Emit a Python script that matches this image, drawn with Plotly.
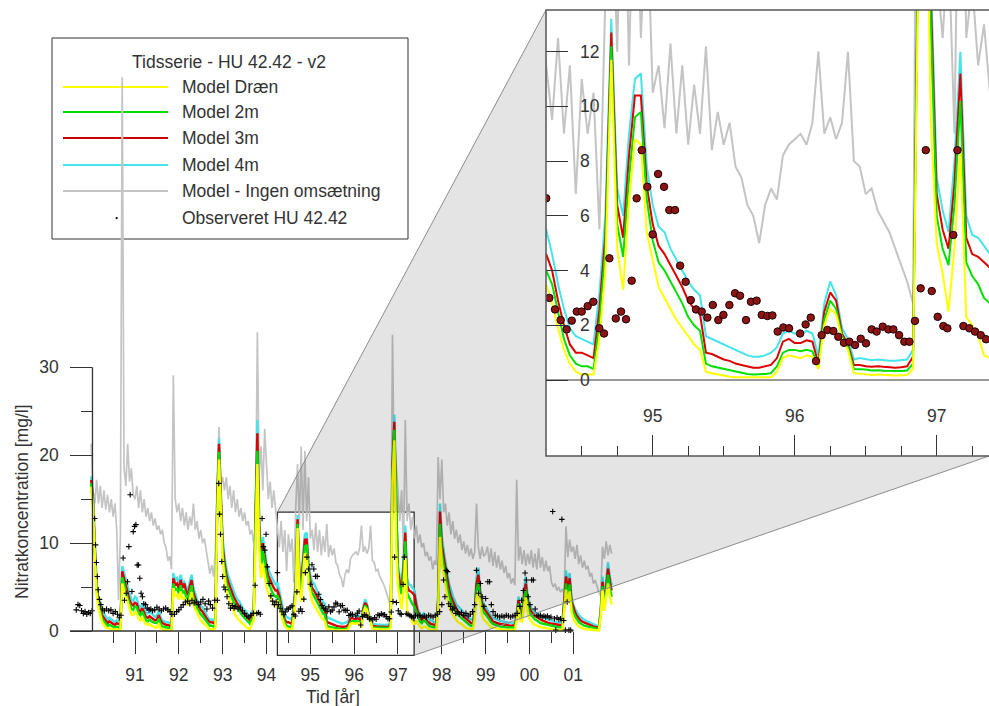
import plotly.graph_objects as go

# ---------------- data ----------------
# half-monthly time grid, 1990.0 ... 2001.875 (decimal years)
t = [1990 + k / 24 for k in range(286)]

model_4m = [  # cyan
    17.6, 15.5, 10.0, 5.5, 3.8, 3.0, 2.3, 2.0, 1.6, 1.3, 1.5, 1.3, 1.1, 1.0, 1.2, 1.1, 1.0, 7.4, 6.6, 5.6, 4.9, 4.3, 3.6, 3.4,
    3.9, 3.7, 2.9, 2.7, 3.1, 2.6, 2.1, 2.0, 2.2, 2.0, 1.8, 1.6, 1.7, 2.3, 1.6, 1.2, 1.1, 1.0, 1.0, 0.9, 0.9, 6.6, 5.8, 6.0,
    5.4, 6.4, 5.5, 5.6, 5.0, 4.6, 5.6, 6.4, 4.9, 4.2, 3.6, 3.2, 2.8, 2.7, 2.3, 2.0, 1.5, 1.3, 1.3, 1.2, 1.5, 15.5, 21.9, 15.3,
    10.5, 8.5, 7.1, 6.3, 5.7, 5.2, 4.6, 4.0, 3.6, 3.4, 3.0, 2.6, 2.4, 2.1, 1.8, 1.6, 2.2, 2.4, 14.0, 24.0, 13.0, 8.5, 10.7, 9.0,
    7.8, 7.0, 6.5, 6.0, 5.6, 5.3, 5.5, 4.6, 3.5, 2.6, 1.9, 1.6, 1.5, 1.4, 1.3, 3.2, 6.0, 13.2, 7.0, 6.0, 9.0, 11.0, 11.2, 7.8,
    6.4, 5.6, 5.4, 4.8, 4.4, 4.0, 3.6, 3.3, 3.1, 1.6, 1.5, 1.4, 1.3, 1.2, 1.1, 1.0, 0.9, 0.85, 0.85, 0.9, 1.0, 1.2, 1.7, 1.8,
    1.7, 1.65, 1.8, 1.7, 0.9, 2.8, 3.6, 3.1, 1.9, 1.5, 0.75, 0.8, 0.75, 0.72, 0.75, 0.72, 0.7, 0.7, 0.72, 0.75, 1.1, 20.0, 24.6, 15.0,
    7.4, 6.2, 5.4, 8.0, 12.0, 6.0, 5.3, 5.2, 4.9, 4.6, 3.4, 2.4, 1.9, 1.6, 2.0, 1.9, 1.5, 1.3, 1.2, 1.1, 1.0, 1.1, 4.0, 14.5,
    10.7, 9.2, 7.7, 6.5, 5.4, 4.6, 4.0, 3.5, 3.0, 2.8, 2.6, 2.4, 2.1, 1.8, 1.6, 1.4, 1.3, 1.3, 2.5, 6.0, 7.2, 4.8, 3.6, 3.1,
    2.8, 2.4, 2.0, 1.7, 1.5, 1.4, 1.3, 1.2, 1.15, 1.1, 1.05, 1.0, 0.95, 0.92, 0.9, 0.9, 0.95, 2.0, 3.9, 2.4, 2.2, 4.5, 6.2, 4.0,
    3.1, 2.6, 2.3, 2.1, 2.0, 1.8, 1.7, 1.6, 1.5, 1.4, 1.3, 1.25, 1.2, 1.1, 1.05, 1.0, 0.95, 0.95, 0.9, 3.5, 6.9, 5.0, 6.6, 3.9,
    3.0, 2.5, 2.1, 1.8, 1.6, 1.4, 1.25, 1.15, 1.05, 0.95, 0.85, 0.75, 0.65, 0.55, 0.5, 2.5, 6.2, 3.5, 6.0, 7.8, 6.2, 5.2,
]

model_3m = [  # red
    17.2, 15.0, 9.5, 5.0, 3.3, 2.5, 1.8, 1.5, 1.2, 0.9, 1.1, 0.9, 0.8, 0.7, 0.9, 0.8, 0.7, 6.8, 6.0, 5.0, 4.3, 3.5, 3.1, 2.9,
    3.2, 3.1, 2.4, 2.2, 2.6, 2.1, 1.6, 1.5, 1.7, 1.5, 1.3, 1.2, 1.3, 1.8, 1.2, 0.9, 0.8, 0.7, 0.7, 0.6, 0.6, 6.0, 5.3, 5.4,
    4.8, 5.8, 4.9, 5.4, 4.5, 4.1, 5.1, 5.8, 4.4, 3.7, 3.1, 2.8, 2.4, 2.2, 1.8, 1.5, 1.2, 1.0, 1.0, 0.9, 1.1, 14.5, 21.3, 14.5,
    9.6, 7.8, 6.4, 5.6, 5.0, 4.5, 3.9, 3.5, 3.1, 2.7, 2.4, 2.1, 1.9, 1.6, 1.4, 1.2, 1.8, 2.0, 13.0, 22.5, 12.0, 7.8, 10.0, 8.3,
    7.1, 6.3, 5.8, 5.3, 4.9, 4.6, 4.6, 4.0, 2.9, 2.0, 1.3, 1.0, 1.0, 0.9, 0.8, 2.6, 5.3, 12.7, 6.4, 5.2, 8.2, 10.4, 10.4, 7.1,
    5.7, 4.9, 4.6, 4.2, 3.8, 3.4, 2.9, 2.6, 2.4, 1.0, 0.95, 0.85, 0.75, 0.7, 0.6, 0.55, 0.5, 0.45, 0.45, 0.5, 0.55, 0.8, 1.4, 1.5,
    1.35, 1.35, 1.45, 1.4, 0.6, 2.5, 3.2, 2.9, 1.7, 1.3, 0.55, 0.55, 0.5, 0.48, 0.5, 0.48, 0.46, 0.45, 0.47, 0.5, 0.85, 19.0, 23.8, 14.0,
    6.8, 5.5, 4.8, 7.2, 11.2, 5.2, 4.6, 4.5, 4.3, 4.1, 2.9, 2.0, 1.5, 1.2, 1.6, 1.5, 1.1, 0.9, 0.8, 0.75, 0.7, 0.8, 3.5, 13.6,
    9.8, 8.4, 7.0, 5.8, 4.7, 3.9, 3.4, 2.9, 2.5, 2.2, 2.0, 1.9, 1.6, 1.4, 1.2, 1.0, 0.9, 0.9, 2.1, 5.3, 6.4, 4.2, 3.1, 2.6,
    2.3, 2.0, 1.6, 1.3, 1.1, 1.0, 0.9, 0.85, 0.8, 0.75, 0.7, 0.68, 0.65, 0.62, 0.6, 0.6, 0.65, 1.7, 3.5, 2.0, 1.8, 4.0, 5.4, 3.4,
    2.6, 2.2, 1.9, 1.7, 1.6, 1.4, 1.3, 1.2, 1.1, 1.0, 0.95, 0.9, 0.85, 0.8, 0.75, 0.7, 0.68, 0.66, 0.65, 3.0, 6.2, 4.5, 6.0, 3.4,
    2.6, 2.1, 1.7, 1.4, 1.2, 1.05, 0.95, 0.85, 0.75, 0.7, 0.6, 0.52, 0.45, 0.4, 0.35, 2.2, 5.6, 3.1, 5.4, 7.1, 5.6, 4.6,
]

model_2m = [  # green
    16.8, 14.5, 9.0, 4.6, 3.0, 2.1, 1.4, 1.1, 0.8, 0.6, 0.7, 0.6, 0.5, 0.4, 0.5, 0.4, 0.4, 6.1, 5.4, 4.4, 3.7, 3.1, 2.5, 2.4,
    2.8, 2.7, 2.0, 1.8, 2.2, 1.7, 1.2, 1.1, 1.3, 1.1, 1.0, 0.9, 0.9, 1.4, 0.8, 0.5, 0.5, 0.4, 0.4, 0.3, 0.3, 5.4, 4.7, 4.8,
    4.3, 5.2, 4.3, 4.6, 3.9, 3.6, 4.5, 5.2, 3.8, 3.2, 2.6, 2.3, 1.9, 1.7, 1.4, 1.1, 0.8, 0.6, 0.6, 0.5, 0.7, 13.5, 20.4, 13.5,
    8.8, 7.1, 5.6, 4.9, 4.3, 3.8, 3.3, 2.9, 2.6, 2.2, 2.0, 1.7, 1.5, 1.3, 1.0, 0.8, 1.4, 1.6, 12.0, 20.5, 11.0, 7.0, 9.3, 7.5,
    6.4, 5.6, 5.0, 4.5, 4.1, 3.9, 4.0, 3.5, 2.5, 1.5, 0.9, 0.6, 0.5, 0.5, 0.4, 2.1, 4.8, 12.2, 5.7, 4.5, 7.4, 9.6, 9.8, 6.6,
    5.1, 4.3, 4.0, 3.6, 3.2, 2.8, 2.3, 2.0, 1.8, 0.6, 0.5, 0.45, 0.4, 0.35, 0.3, 0.25, 0.22, 0.2, 0.2, 0.22, 0.25, 0.5, 1.0, 1.1,
    1.1, 1.05, 1.1, 1.05, 0.5, 2.2, 2.9, 2.6, 1.6, 1.2, 0.4, 0.4, 0.38, 0.35, 0.36, 0.34, 0.33, 0.32, 0.33, 0.35, 0.6, 18.0, 22.9, 13.0,
    6.0, 4.8, 4.2, 6.4, 10.2, 4.3, 3.8, 3.5, 3.0, 2.8, 2.3, 1.6, 1.1, 0.9, 1.2, 1.1, 0.8, 0.6, 0.5, 0.45, 0.4, 0.5, 3.0, 12.2,
    8.8, 7.6, 6.2, 5.0, 4.0, 3.3, 2.8, 2.4, 2.0, 1.8, 1.6, 1.4, 1.2, 1.0, 0.8, 0.7, 0.6, 0.6, 1.7, 4.6, 5.5, 3.6, 2.6, 2.1,
    1.9, 1.6, 1.2, 1.0, 0.8, 0.7, 0.6, 0.55, 0.5, 0.5, 0.45, 0.42, 0.4, 0.38, 0.36, 0.36, 0.4, 1.4, 3.1, 1.6, 1.4, 3.5, 4.7, 2.9,
    2.1, 1.8, 1.5, 1.3, 1.2, 1.0, 0.9, 0.85, 0.8, 0.7, 0.65, 0.6, 0.55, 0.5, 0.48, 0.45, 0.42, 0.4, 0.4, 2.6, 5.4, 3.9, 5.3, 2.9,
    2.1, 1.7, 1.3, 1.0, 0.85, 0.7, 0.6, 0.55, 0.5, 0.45, 0.4, 0.35, 0.3, 0.25, 0.22, 1.9, 5.1, 2.7, 4.8, 6.4, 4.9, 3.9,
]

model_draen = [  # yellow
    16.4, 14.0, 8.5, 4.2, 2.6, 1.7, 1.0, 0.7, 0.4, 0.3, 0.3, 0.2, 0.2, 0.1, 0.2, 0.1, 0.1, 5.4, 4.7, 3.8, 3.1, 2.4, 1.9, 1.8,
    2.2, 2.0, 1.4, 1.2, 1.6, 1.1, 0.8, 0.7, 0.8, 0.6, 0.5, 0.4, 0.4, 0.9, 0.3, 0.2, 0.1, 0.1, 0.1, 0.1, 0.1, 4.9, 4.0, 4.1,
    3.6, 4.5, 3.6, 3.8, 3.2, 2.9, 3.8, 4.4, 3.0, 2.5, 1.9, 1.6, 1.2, 1.0, 0.8, 0.5, 0.3, 0.2, 0.2, 0.2, 0.3, 12.5, 19.5, 12.8,
    8.0, 6.2, 4.8, 4.0, 3.4, 2.9, 2.2, 1.8, 1.5, 1.2, 1.0, 0.8, 0.6, 0.5, 0.3, 0.2, 0.9, 1.2, 11.0, 19.0, 9.5, 6.0, 7.7, 6.2,
    5.0, 4.3, 3.8, 3.3, 3.0, 2.8, 3.5, 2.8, 1.9, 1.1, 0.6, 0.3, 0.2, 0.2, 0.2, 1.5, 4.0, 11.7, 4.8, 3.3, 6.5, 8.8, 8.6, 5.4,
    4.4, 3.4, 3.0, 2.6, 2.2, 1.9, 1.6, 1.3, 1.1, 0.3, 0.25, 0.2, 0.15, 0.12, 0.1, 0.1, 0.08, 0.08, 0.08, 0.1, 0.1, 0.3, 0.8, 0.9,
    0.85, 0.8, 0.9, 0.85, 0.4, 2.0, 2.6, 2.4, 1.5, 1.1, 0.25, 0.22, 0.2, 0.18, 0.2, 0.18, 0.17, 0.16, 0.17, 0.18, 0.4, 17.0, 21.7, 9.5,
    5.0, 3.9, 2.5, 4.8, 8.4, 2.3, 2.0, 1.6, 0.9, 0.8, 1.2, 0.8, 0.5, 0.3, 0.5, 0.5, 0.3, 0.2, 0.15, 0.12, 0.1, 0.15, 2.4, 10.7,
    7.7, 6.5, 5.0, 4.0, 2.8, 2.2, 1.8, 1.5, 1.2, 1.0, 0.9, 0.7, 0.5, 0.4, 0.3, 0.25, 0.2, 0.2, 1.3, 3.8, 4.5, 2.8, 1.8, 1.3,
    1.1, 0.9, 0.6, 0.45, 0.35, 0.3, 0.25, 0.2, 0.2, 0.18, 0.15, 0.15, 0.12, 0.12, 0.1, 0.1, 0.12, 1.1, 2.7, 1.2, 1.0, 2.8, 3.9, 2.2,
    1.4, 1.1, 0.8, 0.7, 0.6, 0.5, 0.45, 0.4, 0.35, 0.3, 0.25, 0.22, 0.2, 0.18, 0.15, 0.14, 0.13, 0.12, 0.12, 2.2, 4.7, 3.2, 4.5, 2.2,
    1.4, 1.0, 0.7, 0.5, 0.4, 0.3, 0.25, 0.2, 0.18, 0.15, 0.12, 0.1, 0.08, 0.06, 0.05, 1.6, 4.7, 2.3, 4.2, 5.4, 4.0, 3.0,
]

model_ingen = [  # grey, no turnover
    21.3, 16, 14.5, 17.2, 14.5, 16.5, 14, 16, 13.8, 15.5, 13.5, 15, 13, 14.5, 11.5, 3.5, 11, 63, 18.5, 16.5, 21.3, 17, 18.5, 15.5,
    15, 16.5, 14, 16, 13.5, 15, 13, 14, 12.5, 13.5, 12, 12.8, 11.5, 12, 11, 11.5, 10, 9.5, 8, 8.5, 7, 29.1, 15, 13.5,
    14.5, 12.5, 14, 12, 13.5, 11.5, 13, 12, 14.5, 11.5, 12.5, 10.5, 11.5, 10, 10.5, 9, 8, 6.5, 7.5, 6.2, 9, 16, 23.2, 16.5,
    17.5, 16, 17.5, 15, 16.5, 14, 16, 13.5, 15, 13, 14, 12.5, 13.5, 12, 12.5, 11, 11.5, 10, 12, 34, 18, 21, 16, 23,
    18, 15, 17, 14, 16, 13.5, 11.5, 9.5, 12.5, 9, 11.5, 6.8, 11, 9, 10.5, 5.5, 14, 19, 12, 21, 11.5, 20.5, 12.5, 17.5,
    10.5, 11.5, 9.2, 12.3, 9.0, 11.5, 8.6, 10.8, 9.0, 12.2, 8.4, 9.8, 8.6, 9.4, 7.8, 7.4, 6.4, 6.0, 5.0, 6.4, 7.0, 6.6, 8.2, 8.6,
    8.8, 9.0, 8.6, 9.4, 12.0, 9.0, 9.6, 8.8, 9.4, 12.0, 8.0, 7.8, 6.8, 7.0, 6.2, 5.8, 5.4, 4.8, 4.2, 3.6, 2.8, 33.7, 16, 19,
    15, 12.5, 16, 9, 24, 12.5, 14.5, 11.5, 13, 10.5, 12, 10, 11, 9.5, 10, 8.5, 9, 8, 8.5, 7, 8, 7.5, 19.8, 15,
    19.5, 13.5, 14.5, 12, 13.5, 11, 12.5, 10.5, 11.5, 10, 11, 9.2, 10.2, 8.8, 9.8, 8.5, 9.4, 8.2, 9, 14.5, 9.5, 8.2, 9.6, 8.5,
    8.8, 9.6, 7.8, 9.4, 7.4, 9.0, 7.2, 8.6, 7.0, 8.0, 6.6, 7.4, 6.0, 6.6, 5.4, 6.0, 5.2, 17.2, 8.0, 9.6, 7.6, 9.2, 7.4, 8.8,
    7.6, 9.2, 7.2, 8.8, 7.0, 9.4, 7.2, 8.4, 6.8, 8.0, 6.8, 7.4, 5.6, 5.0, 5.4, 4.6, 5.0, 4.4, 4.8, 4.2, 11.9, 8.4, 10.4, 9.0,
    9.6, 8.2, 9.8, 7.6, 8.6, 7.2, 8.0, 7.0, 7.4, 6.2, 6.6, 5.4, 5.8, 5.0, 4.4, 4.0, 9.6, 8.2, 10.2, 8.6, 9.8, 8.8,
]

obs_t = [
    1989.66, 1989.70, 1989.74, 1989.78, 1989.82, 1989.86, 1989.90, 1989.94, 1989.98, 1990.02,
    1990.08, 1990.10, 1990.12, 1990.14, 1990.16, 1990.19, 1990.22, 1990.26, 1990.30, 1990.35,
    1990.40, 1990.45, 1990.50, 1990.55, 1990.60, 1990.64, 1990.68, 1990.73, 1990.76, 1990.80,
    1990.83, 1990.86, 1990.89, 1990.93, 1990.96, 1990.99, 1991.02, 1991.05, 1991.08, 1991.11,
    1991.14, 1991.17, 1991.20, 1991.24, 1991.28, 1991.32, 1991.36, 1991.40, 1991.45, 1991.50,
    1991.55, 1991.60, 1991.65, 1991.70, 1991.75, 1991.80, 1991.84, 1991.90, 1991.95, 1992.00,
    1992.05, 1992.10, 1992.15, 1992.20, 1992.25, 1992.30, 1992.35, 1992.40, 1992.45, 1992.50,
    1992.55, 1992.60, 1992.64, 1992.68, 1992.72, 1992.77, 1992.82, 1992.88, 1992.91, 1992.93,
    1992.95, 1992.98, 1993.00, 1993.03, 1993.06, 1993.10, 1993.14, 1993.18, 1993.22, 1993.26,
    1993.30, 1993.35, 1993.40, 1993.45, 1993.50, 1993.55, 1993.60, 1993.64, 1993.70, 1993.74,
    1993.78, 1993.82, 1993.86, 1993.90, 1993.93, 1993.96, 1993.99, 1994.02, 1994.06, 1994.10,
    1994.14, 1994.18, 1994.22, 1994.25,
    1994.272, 1994.312, 1994.352, 1994.394, 1994.430, 1994.465, 1994.500, 1994.542, 1994.582, 1994.624,
    1994.657, 1994.695, 1994.740, 1994.777, 1994.812, 1994.852, 1994.887, 1994.923, 1994.962, 1995.000,
    1995.038, 1995.080, 1995.117, 1995.157, 1995.193, 1995.232, 1995.268, 1995.305, 1995.345, 1995.385,
    1995.423, 1995.462, 1995.498, 1995.540, 1995.580, 1995.615, 1995.657, 1995.692, 1995.732, 1995.768,
    1995.808, 1995.843, 1995.880, 1995.920, 1995.960, 1996.038, 1996.077, 1996.113, 1996.150, 1996.190,
    1996.230, 1996.272, 1996.307, 1996.347, 1996.385, 1996.425, 1996.465, 1996.502, 1996.542, 1996.577,
    1996.620, 1996.660, 1996.695, 1996.735, 1996.772, 1996.808, 1996.847, 1996.887, 1996.923, 1996.965,
    1997.007, 1997.047, 1997.075, 1997.117, 1997.146, 1997.188, 1997.230, 1997.270, 1997.310, 1997.347,
    1997.40, 1997.45, 1997.50, 1997.55, 1997.60, 1997.65, 1997.70, 1997.75, 1997.80, 1997.85,
    1997.90, 1997.95, 1998.00, 1998.04, 1998.07, 1998.10, 1998.13, 1998.16, 1998.20, 1998.24,
    1998.28, 1998.32, 1998.36, 1998.40, 1998.45, 1998.50, 1998.55, 1998.60, 1998.65, 1998.70,
    1998.75, 1998.79, 1998.84, 1998.88, 1998.92, 1998.96, 1999.00, 1999.05, 1999.09, 1999.13,
    1999.17, 1999.22, 1999.27, 1999.32, 1999.37, 1999.42, 1999.47, 1999.52, 1999.57, 1999.62,
    1999.67, 1999.72, 1999.78, 1999.82, 1999.86, 1999.90, 1999.93, 1999.97, 2000.01, 2000.05,
    2000.09, 2000.13, 2000.17, 2000.21, 2000.25, 2000.29, 2000.33, 2000.37, 2000.41, 2000.45,
    2000.49, 2000.53, 2000.57, 2000.60, 2000.63, 2000.67, 2000.71, 2000.74, 2000.78, 2000.82,
    2000.86, 2000.90, 2000.94,
]
obs_v = [
    2.4, 3.0, 2.9, 2.3, 2.0, 2.2, 1.9, 2.1, 2.0, 2.3,
    12.8, 9.8, 7.8, 6.2, 4.7, 3.6, 3.0, 2.5, 2.3, 2.5,
    2.3, 2.4, 2.0, 2.2, 1.9, 1.5, 1.8, 8.3, 3.5, 4.3,
    5.6, 9.6, 15.5, 4.5, 11.3, 11.9, 12.1, 7.5, 7.5, 6.0,
    4.3, 3.9, 3.1, 3.0, 2.6, 2.4, 2.5, 2.3, 2.4, 2.7,
    2.5, 2.3, 2.5, 2.6, 2.4, 2.2, 1.9, 1.9, 2.2, 2.4,
    2.7, 3.0, 3.3, 3.4, 3.1, 3.5, 3.2, 3.3, 3.0, 3.3,
    3.6, 3.1, 2.5, 3.4, 3.0, 2.6, 3.5, 3.5, 16.8, 13.3,
    11.0, 7.9, 6.2, 5.0, 4.7, 3.9, 3.1, 2.6, 2.9, 2.6,
    2.8, 2.5, 2.7, 2.3, 2.0, 1.7, 1.6, 1.8, 2.0, 5.2,
    2.0, 2.1, 1.9, 12.8, 9.6, 9.2, 11.0, 7.3, 5.4, 4.0,
    3.4, 3.0, 3.3, 6.64,
    3.0, 2.58, 2.19, 1.85, 2.17, 2.5, 2.5, 2.7, 2.86, 1.89,
    1.7, 4.45, 2.25, 2.5, 2.22, 3.63, 6.64, 8.4, 7.06, 5.32,
    7.53, 7.06, 6.21, 6.21, 4.18, 3.59, 2.92, 2.58, 2.5, 2.28,
    2.74, 2.19, 2.38, 2.74, 3.17, 3.08, 2.19, 2.86, 2.9, 2.38,
    2.34, 2.36, 1.77, 1.92, 1.89, 1.7, 2.03, 2.28, 0.69, 1.64,
    1.83, 1.79, 1.58, 1.36, 1.4, 1.28, 1.51, 1.34, 1.85, 1.77,
    1.95, 1.85, 1.85, 1.64, 1.4, 1.4, 2.16, 3.35, 8.4, 3.25,
    2.31, 1.97, 1.89, 5.3, 8.4, 1.97, 1.89, 1.77, 1.64, 1.49,
    1.8, 1.7, 1.8, 1.6, 1.7, 1.6, 1.8, 1.7, 1.6, 1.8,
    1.9, 2.2, 3.0, 5.8, 3.9, 6.9, 6.75, 3.1, 2.8, 2.4,
    2.6, 2.0, 2.2, 1.9, 2.1, 1.8, 2.0, 1.7, 1.9, 2.2,
    3.0, 6.9, 4.3, 5.4, 3.9, 2.8, 3.7, 5.6, 5.6, 3.0,
    2.2, 1.8, 1.7, 1.6, 1.7, 1.6, 1.8, 1.7, 1.6, 1.7,
    1.8, 2.0, 2.8, 3.5, 4.6, 6.6, 5.8, 3.9, 3.0, 5.8,
    5.8, 2.5, 1.8, 1.7, 1.8, 1.6, 1.7, 1.6, 1.7, 1.5,
    1.6, 13.6, 1.4, 0.1, 1.5, 1.3, 1.4, 12.7, 1.2, 0.1,
    3.3, 0.1, 0.1,
]

major_years = [1991, 1992, 1993, 1994, 1995, 1996, 1997, 1998, 1999, 2000, 2001]
major_labels = ["91", "92", "93", "94", "95", "96", "97", "98", "99", "00", "01"]
minor_years = [1990.5, 1991.5, 1992.5, 1993.5, 1994.5, 1995.5, 1996.5, 1997.5, 1998.5, 1999.5, 2000.5]
inset_major = [1995, 1996, 1997]
inset_labels = ["95", "96", "97"]
inset_minor = [1994.5, 1994.75, 1995.25, 1995.5, 1995.75, 1996.25, 1996.5, 1996.75, 1997.25]
inset_yticks = [0, 2, 4, 6, 8, 10, 12]

legend_title = "Tidsserie - HU 42.42 - v2"
legend_names = ["Model Dræn", "Model 2m", "Model 3m", "Model 4m", "Model - Ingen omsætning", "Observeret HU 42.42"]

# ---------------- styling ----------------
W, H = 989, 706
FONT = "Liberation Sans, Arial, sans-serif"
TXT = "#333333"
FS = 17.5
YELLOW, GREEN, RED, CYAN, GREY = "#ffff00", "#00e000", "#dc0000", "#44e4ec", "#c4c4c4"


def px(x):
    return x / W


def py(y):
    return 1 - y / H


# main axis geometry (pixels)
X91, PPY = 135.0, 43.83          # x pixel of 1991, pixels per year
Y0, PPU = 631.0, 8.79            # y pixel of 0, pixels per unit
main_xr = [1991 - X91 / PPY, 1991 + (W - X91) / PPY]
main_yr = [-(H - Y0) / PPU, Y0 / PPU]
# inset geometry
IX95, IPPY = 652.7, 142.0
IY0, IPPU = 380.0, 27.36
IL, IT, IB = 546.0, 10.0, 456.0
in_xr = [1995 - (IX95 - IL) / IPPY, 1995 + (W - IX95) / IPPY]
in_yr = [-(IB - IY0) / IPPU, (IY0 - IT) / IPPU]

fig = go.Figure()

series = [(model_ingen, GREY), (model_4m, CYAN), (model_3m, RED), (model_2m, GREEN), (model_draen, YELLOW)]
for xa, ya, wg, wc in [("x", "y", 1.7, 2.4), ("x2", "y2", 2.0, 2.0)]:
    for vals, col in series:
        fig.add_trace(go.Scatter(x=t, y=vals, xaxis=xa, yaxis=ya, mode="lines",
                                 line=dict(color=col, width=wg if col == GREY else wc),
                                 hoverinfo="skip", showlegend=False))

fig.add_trace(go.Scatter(x=obs_t, y=obs_v, xaxis="x", yaxis="y", mode="markers",
                         marker=dict(symbol="cross-thin", size=4, color="black",
                                     line=dict(color="black", width=1.1)),
                         hoverinfo="skip", showlegend=False))
fig.add_trace(go.Scatter(x=obs_t, y=obs_v, xaxis="x2", yaxis="y2", mode="markers",
                         marker=dict(symbol="circle", size=7.5, color="#8c1414",
                                     line=dict(color="#1a0000", width=1)),
                         hoverinfo="skip", showlegend=False))

shapes = []
# shaded zoom funnel (translucent, drawn over the data like the original)
rx0, rx1 = X91 + (in_xr[0] - 1991) * PPY, X91 + (in_xr[1] - 1991) * PPY
ry0, ry1 = Y0 - in_yr[1] * PPU, Y0 - in_yr[0] * PPU
poly = [(rx0, ry0), (IL, IT), (IL, IB), (W, IB), (rx1, ry1), (rx1, ry0)]
path = "M " + " L ".join(f"{px(a):.5f},{py(b):.5f}" for a, b in poly) + " Z"
shapes.append(dict(type="path", path=path, xref="paper", yref="paper", fillcolor="rgba(0,0,0,0.105)",
                   line=dict(width=0), layer="above"))
for (a, b), (c, d) in [((rx0, ry0), (IL, IT)), ((rx1, ry1), (W, IB))]:
    shapes.append(dict(type="line", xref="paper", yref="paper", x0=px(a), y0=py(b), x1=px(c), y1=py(d),
                       line=dict(color="#8c8c8c", width=1), layer="above"))
# zoom rectangle in main chart
shapes.append(dict(type="rect", xref="x", yref="y", x0=in_xr[0], x1=in_xr[1], y0=in_yr[0], y1=in_yr[1],
                   line=dict(color="#333333", width=1.3), layer="below"))
# main axis lines
shapes.append(dict(type="line", xref="x", yref="y", x0=1991 + (70 - X91) / PPY, x1=2001, y0=0, y1=0,
                   line=dict(color="#333333", width=1.3)))
shapes.append(dict(type="line", xref="x", yref="y", x0=1990.03, x1=1990.03, y0=0, y1=30,
                   line=dict(color="#333333", width=1.3)))
# inset frame and zero line
shapes.append(dict(type="rect", xref="paper", yref="paper", x0=px(IL), x1=px(W + 5), y0=py(IB), y1=py(IT),
                   line=dict(color="#555555", width=1.5)))
shapes.append(dict(type="line", xref="paper", yref="y2", x0=px(IL), x1=1, y0=0, y1=0,
                   line=dict(color="#333333", width=1.2)))
# legend box
shapes.append(dict(type="rect", xref="paper", yref="paper", x0=px(52), x1=px(408), y0=py(239), y1=py(38),
                   line=dict(color="#333333", width=1), fillcolor="white", layer="below"))
leg_y = [87, 112, 138, 165, 191, 218]
for yy, col in zip(leg_y[:5], [YELLOW, GREEN, "#c80000", CYAN, GREY]):
    shapes.append(dict(type="line", xref="paper", yref="paper", x0=px(63), x1=px(168), y0=py(yy), y1=py(yy),
                       line=dict(color=col, width=2.2), layer="below"))
shapes.append(dict(type="circle", xref="paper", yref="paper", x0=px(115.5), x1=px(117.8),
                   y0=py(219.2), y1=py(216.9), fillcolor="black", line=dict(width=0), layer="below"))

annotations = [
    dict(text="Nitratkoncentration [mg/l]", x=px(22), y=py(502), xref="paper", yref="paper",
         textangle=-90, showarrow=False, font=dict(size=FS, color=TXT), xanchor="center", yanchor="middle"),
    dict(text="Tid [år]", x=px(333), y=py(697), xref="paper", yref="paper", showarrow=False,
         font=dict(size=FS, color=TXT), xanchor="center", yanchor="middle"),
    dict(text=legend_title, x=px(228.5), y=py(62), xref="paper", yref="paper", showarrow=False,
         font=dict(size=FS, color=TXT), xanchor="center", yanchor="middle"),
]
for yy, name in zip(leg_y, legend_names):
    annotations.append(dict(text=name, x=px(180), y=py(yy), xref="paper", yref="paper", showarrow=False,
                            font=dict(size=FS, color=TXT), xanchor="left", yanchor="middle"))
# inset y tick labels, placed on the inset's y scale just right of the tick marks
for v in inset_yticks:
    annotations.append(dict(text=str(v), x=px(578), y=v, xref="paper", yref="y2", showarrow=False,
                            font=dict(size=FS, color=TXT), xanchor="left", yanchor="middle"))

tick_common = dict(showline=False, showgrid=False, zeroline=False, tickcolor="#333333", tickwidth=1.3,
                   tickfont=dict(size=FS, color=TXT, family=FONT))

fig.update_layout(
    width=W, height=H, margin=dict(l=0, r=0, t=0, b=0),
    paper_bgcolor="white", plot_bgcolor="rgba(0,0,0,0)",
    font=dict(family=FONT, color=TXT, size=FS),
    showlegend=False,
    xaxis=dict(domain=[0, 1], range=main_xr, anchor="free", position=py(Y0),
               tickmode="array", tickvals=major_years, ticktext=major_labels,
               ticks="outside", ticklen=22, ticklabelstandoff=6,
               minor=dict(tickmode="array", tickvals=minor_years, ticks="outside", ticklen=11,
                          tickcolor="#333333", tickwidth=1.3, showgrid=False),
               **tick_common),
    yaxis=dict(domain=[0, 1], range=main_yr, anchor="free", position=px(92.3),
               tickmode="array", tickvals=[0, 10, 20, 30], ticktext=["0", "10", "20", "30"],
               ticks="outside", ticklen=22, ticklabelstandoff=8,
               minor=dict(tickmode="array", tickvals=[5, 15, 25], ticks="outside", ticklen=11,
                          tickcolor="#333333", tickwidth=1.3, showgrid=False),
               **tick_common),
    xaxis2=dict(domain=[px(IL), 1], range=in_xr, anchor="y2",
                tickmode="array", tickvals=inset_major, ticktext=inset_labels,
                ticks="inside", ticklen=21, ticklabelposition="inside", ticklabelstandoff=10,
                minor=dict(tickmode="array", tickvals=inset_minor, ticks="inside", ticklen=10,
                           tickcolor="#333333", tickwidth=1.3, showgrid=False),
                **tick_common),
    yaxis2=dict(domain=[py(IB), py(IT)], range=in_yr, anchor="x2",
                tickmode="array", tickvals=inset_yticks,
                ticks="inside", ticklen=22, showticklabels=False,
                **tick_common),
    shapes=shapes, annotations=annotations,
)

fig.write_html("out.html")
